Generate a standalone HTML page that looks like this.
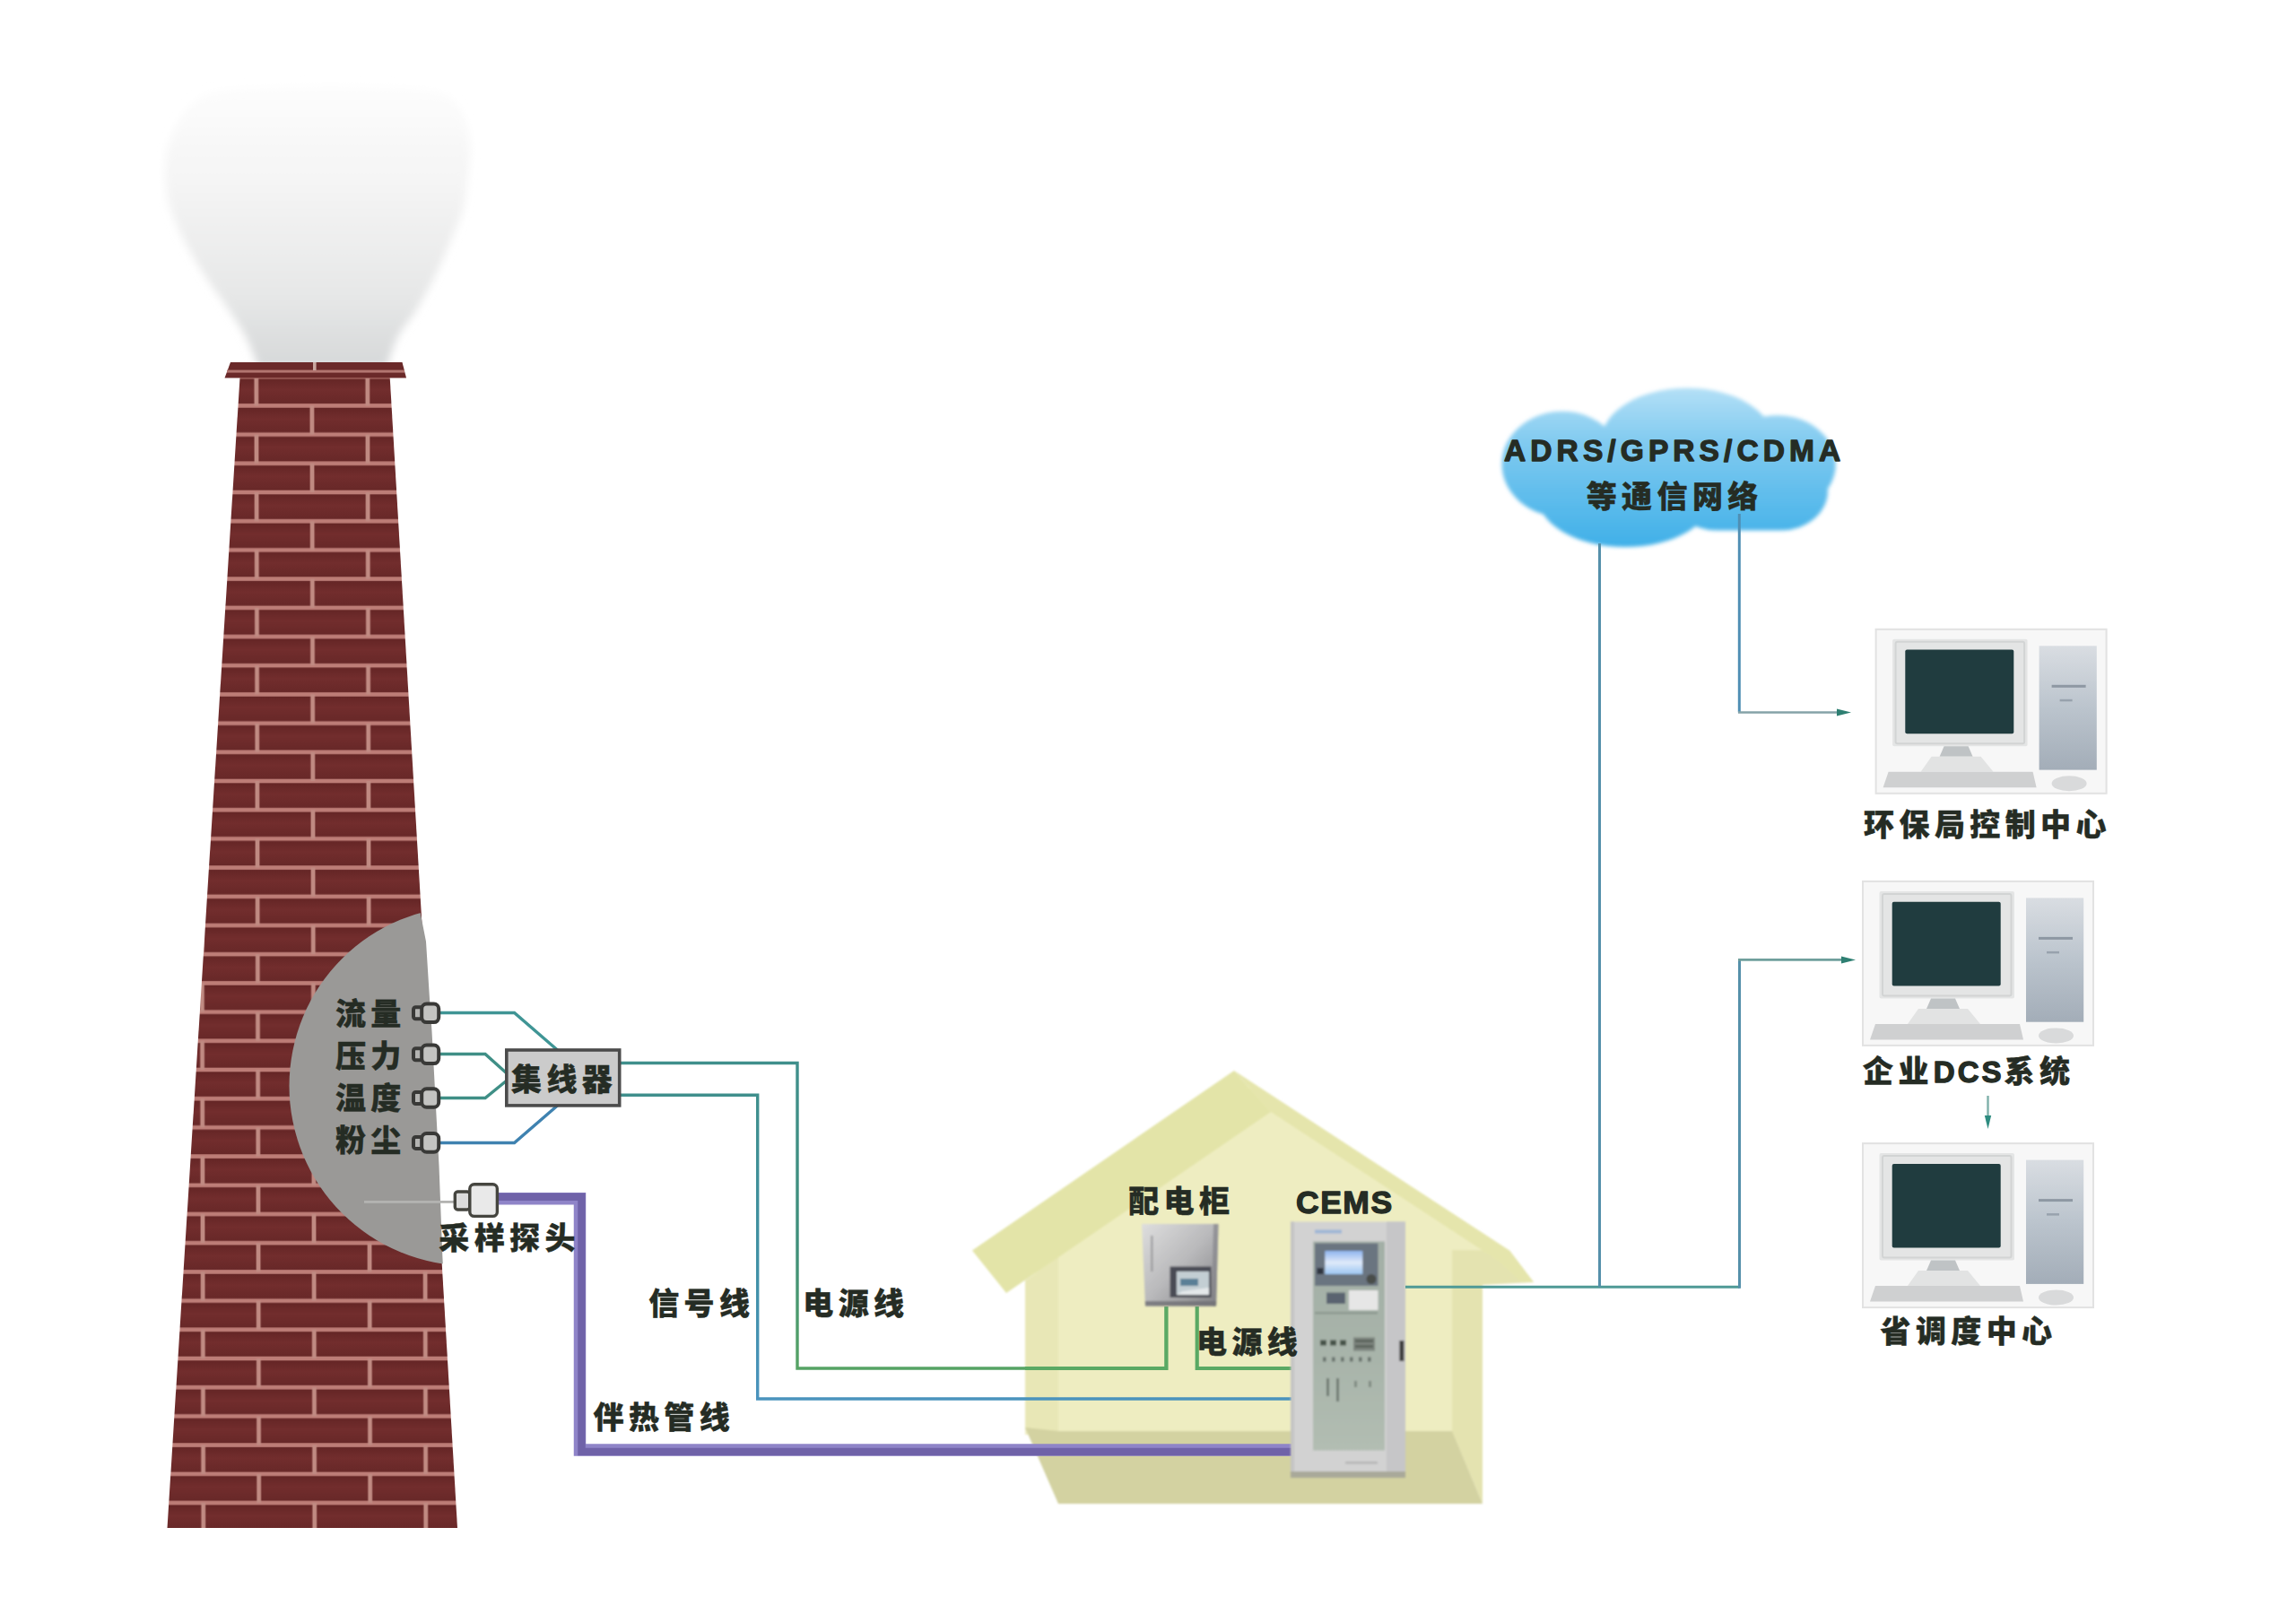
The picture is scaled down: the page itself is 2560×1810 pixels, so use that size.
<!DOCTYPE html>
<html lang="zh-CN">
<head>
<meta charset="utf-8">
<title>CEMS 系统示意图</title>
<style>
html,body{margin:0;padding:0;background:#fff;}
body{width:2560px;height:1810px;overflow:hidden;}
svg{display:block;}
</style>
</head>
<body>
<svg width="2560" height="1810" viewBox="0 0 2560 1810">
<defs>
<linearGradient id="rowg" x1="0" y1="0" x2="0" y2="1">
  <stop offset="0" stop-color="#622424"/><stop offset="0.45" stop-color="#722d2d"/><stop offset="1" stop-color="#662727"/>
</linearGradient>
<pattern id="brick" patternUnits="userSpaceOnUse" patternTransform="skewX(0.134)" x="284.8" y="420.2" width="124" height="64.4">
  <rect x="0" y="0" width="124" height="32.2" fill="url(#rowg)"/>
  <rect x="0" y="32.2" width="124" height="32.2" fill="url(#rowg)"/>
  <rect x="0" y="29.9" width="124" height="4.6" fill="#bd7d77"/>
  <rect x="0" y="62.1" width="124" height="2.3" fill="#bd7d77"/>
  <rect x="0" y="0" width="124" height="2.3" fill="#bd7d77"/>
  <rect x="-2.4" y="0" width="4.8" height="32.2" fill="#c08a82"/>
  <rect x="121.6" y="0" width="4.8" height="32.2" fill="#c08a82"/>
  <rect x="59.6" y="32.2" width="4.8" height="32.2" fill="#c08a82"/>
</pattern>
<linearGradient id="smokeg" x1="0" y1="1" x2="0" y2="0">
  <stop offset="0" stop-color="#d6d8d9"/><stop offset="0.25" stop-color="#e6e7e7"/><stop offset="0.6" stop-color="#f3f3f3"/><stop offset="1" stop-color="#fdfdfd"/>
</linearGradient>
<filter id="blur6" x="-20%" y="-20%" width="140%" height="140%"><feGaussianBlur stdDeviation="5"/></filter>
<filter id="blur3" x="-20%" y="-20%" width="140%" height="140%"><feGaussianBlur stdDeviation="3"/></filter>
<filter id="blur2" x="-20%" y="-20%" width="140%" height="140%"><feGaussianBlur stdDeviation="2"/></filter>
<filter id="blur1" x="-20%" y="-20%" width="140%" height="140%"><feGaussianBlur stdDeviation="0.9"/></filter>
<clipPath id="ellclip"><polygon points="0,1000 466.5,1000 467.5,1012 475,1050 479,1114 481.5,1150 489.5,1300 493.3,1400 494.3,1420 0,1420"/></clipPath>
<linearGradient id="cloudg" gradientUnits="userSpaceOnUse" x1="0" y1="432" x2="0" y2="610">
  <stop offset="0" stop-color="#b4e0f6"/><stop offset="0.35" stop-color="#80caf0"/><stop offset="1" stop-color="#40b0e8"/>
</linearGradient>
<linearGradient id="boxg" x1="0" y1="0" x2="1" y2="1">
  <stop offset="0" stop-color="#dedede"/><stop offset="0.5" stop-color="#b9b9bb"/><stop offset="1" stop-color="#808083"/>
</linearGradient>
<linearGradient id="towerg" x1="0" y1="0" x2="0" y2="1">
  <stop offset="0" stop-color="#d9dde2"/><stop offset="0.5" stop-color="#bbc4cd"/><stop offset="1" stop-color="#a3adb8"/>
</linearGradient>
<linearGradient id="glassg" x1="0" y1="0" x2="0" y2="1">
  <stop offset="0" stop-color="#a3afa6"/><stop offset="0.55" stop-color="#a8b4aa"/><stop offset="1" stop-color="#b2bdb2"/>
</linearGradient>
<linearGradient id="lcdg" x1="0" y1="0" x2="0" y2="1">
  <stop offset="0" stop-color="#8fb4ee"/><stop offset="0.5" stop-color="#dfeafa"/><stop offset="1" stop-color="#9cc6f2"/>
</linearGradient>
<linearGradient id="pw" gradientUnits="userSpaceOnUse" x1="0" y1="1185" x2="0" y2="1526">
  <stop offset="0" stop-color="#3f8f8c"/><stop offset="0.6" stop-color="#3f8f7a"/><stop offset="1" stop-color="#56a364"/>
</linearGradient>
<linearGradient id="sg" gradientUnits="userSpaceOnUse" x1="0" y1="1221" x2="0" y2="1560">
  <stop offset="0" stop-color="#3f8f8c"/><stop offset="0.6" stop-color="#4191a8"/><stop offset="1" stop-color="#4a93bd"/>
</linearGradient>
<g id="pc">
  <rect x="0" y="0" width="257" height="183" fill="#f7f7f7" stroke="#e2e2e2" stroke-width="2"/>
  <rect x="18.5" y="11" width="150.5" height="119.5" rx="2" fill="#e4e5e5"/>
  <rect x="22" y="14" width="143.5" height="113.5" rx="2" fill="none" stroke="#d2d4d4" stroke-width="2"/>
  <rect x="32.7" y="22.8" width="121" height="93.7" rx="2" fill="#203c3f"/>
  <polygon points="76,130.5 103,130.5 108,142 71,142" fill="#bfc3c5"/>
  <polygon points="62,142 117,142 131,159 50,159" fill="#e2e3e3"/>
  <polygon points="14,159 175,159 179,176.5 8,176.5" fill="#cfd0d1"/>
  <rect x="182" y="18.5" width="64.2" height="138.3" fill="url(#towerg)"/>
  <rect x="196" y="62" width="38" height="3" fill="#8e98a3"/>
  <rect x="205" y="78" width="14" height="2.5" fill="#98a2ad"/>
  <ellipse cx="215.5" cy="172" rx="19.5" ry="8.5" fill="#d9dadb"/>
</g>
</defs>
<g filter="url(#blur6)"><path d="M288.5,410.0 C286.1,404.2 279.3,386.0 273.8,375.3 C268.3,364.6 262.7,356.8 255.3,345.7 C247.9,334.6 237.4,321.1 229.4,308.8 C221.4,296.5 213.7,284.1 207.2,271.8 C200.7,259.5 194.4,247.1 190.6,234.8 C186.8,222.5 184.7,210.2 184.3,197.9 C183.9,185.6 184.2,173.2 188.0,160.9 C191.8,148.6 198.4,133.8 207.2,123.9 C215.9,114.1 221.4,106.4 240.5,101.8 C259.6,97.2 292.9,97.1 321.8,96.2 C350.8,95.3 386.5,95.3 414.2,96.2 C441.9,97.1 471.6,97.2 488.2,101.8 C504.8,106.4 508.0,114.1 514.0,123.9 C520.0,133.8 523.2,148.6 524.4,160.9 C525.6,173.2 522.8,185.6 521.4,197.9 C520.0,210.2 519.3,222.5 515.9,234.8 C512.5,247.1 506.3,259.5 501.1,271.8 C495.9,284.1 490.7,296.5 484.5,308.8 C478.3,321.1 470.9,334.6 464.1,345.7 C457.3,356.8 449.3,364.6 443.8,375.3 C438.3,386.0 433.0,404.2 430.9,410.0 Z" fill="url(#smokeg)"/></g>
<g>
<polygon points="267.5,421 434.7,421 510,1704 186.5,1704" fill="url(#brick)"/>
<polygon points="257,404 448.5,404 453,421.6 250.5,421.6" fill="#6a2929"/>
<rect x="253" y="412.6" width="198" height="3" fill="#b27570"/>
<rect x="349" y="404" width="3.6" height="9" fill="#c9a8a0"/>
</g>
<g clip-path="url(#ellclip)"><circle cx="523" cy="1211" r="200.5" fill="#9a9997"/></g>
<g filter="url(#blur1)">
<!-- back wall -->
<polygon points="1143,1430 1395,1212 1685,1405 1653,1433 1653,1600 1143,1600" fill="#eeedc1"/>
<!-- left wall -->
<polygon points="1143,1428 1180,1402 1180,1597 1143,1594" fill="#e8e7b6"/>
<!-- right wall / gable shade -->
<polygon points="1619,1394 1683,1394.6 1710,1430 1653,1433 1653,1677 1619,1597" fill="#e4e3b0"/>
<!-- floor -->
<polygon points="1143,1592 1180,1596 1619,1596 1653,1677 1180,1677" fill="#d3d2a1"/>
<!-- roof bands -->
<polygon points="1376,1194 1084,1394.5 1122,1442 1417,1240" fill="#e3e4a8"/>
<polygon points="1376,1194 1683,1394.6 1710,1430 1697,1430 1672,1407 1417,1240" fill="#e5e5ac"/>
</g>
<g fill="none" stroke-width="3.4" stroke-linejoin="miter">
<path d="M491,1129.5 H573.5 L621.5,1171" stroke="#3f9595"/>
<path d="M491,1175.5 H541 L565,1197" stroke="#3f8f86"/>
<path d="M491,1224.5 H541 L565,1205" stroke="#3f8f86"/>
<path d="M491,1274.5 H573.5 L621.5,1233" stroke="#3f82b0"/>
<path d="M692,1185.5 H889 V1526 H1300.4 V1457" stroke="url(#pw)"/>
<path d="M692,1221.3 H844.7 V1560 H1440" stroke="url(#sg)"/>
<path d="M1334.7,1457 V1526 H1440" stroke="#5aa964" stroke-width="4.2"/>
<path d="M1300.4,1457 V1526 H1143" stroke="#5aa964" stroke-width="4.2"/>
</g>
<g fill="none" stroke-linejoin="miter">
<path d="M556,1336.8 H646.5 V1617 H1440" stroke="#8f84c8" stroke-width="13.5"/>
<path d="M556,1334.8 H648.5 V1619 H1440" stroke="#6f62a8" stroke-width="8.5"/>
</g>
<rect x="564.8" y="1171" width="125.9" height="61.9" fill="#cbcbcb" stroke="#4b4b4b" stroke-width="3.6"/>
<g stroke="#393937" stroke-width="4" fill="#b4b4b2"><rect x="461" y="1123.3" width="10" height="13" rx="2.5"/><rect x="470.2" y="1119.5" width="19" height="20.6" rx="5.5" fill="#c3c3c1"/></g>
<g stroke="#393937" stroke-width="4" fill="#b4b4b2"><rect x="461" y="1169.3" width="10" height="13" rx="2.5"/><rect x="470.2" y="1165.5" width="19" height="20.6" rx="5.5" fill="#c3c3c1"/></g>
<g stroke="#393937" stroke-width="4" fill="#b4b4b2"><rect x="461" y="1218.0" width="10" height="13" rx="2.5"/><rect x="470.2" y="1214.2" width="19" height="20.6" rx="5.5" fill="#c3c3c1"/></g>
<g stroke="#393937" stroke-width="4" fill="#b4b4b2"><rect x="461" y="1267.9" width="10" height="13" rx="2.5"/><rect x="470.2" y="1264.1" width="19" height="20.6" rx="5.5" fill="#c3c3c1"/></g>
<rect x="406" y="1339" width="101" height="2.8" fill="#b3b3b1"/>
<g stroke="#45453f" stroke-width="3.4"><rect x="507.3" y="1329" width="16.5" height="20" rx="3" fill="#dcdcdc"/><rect x="523.8" y="1320.8" width="30.6" height="35.6" rx="5" fill="#e9e9e9"/></g>
<g filter="url(#blur1)">
<polygon points="1273,1365 1358.5,1365 1356,1456.5 1277,1456.5" fill="url(#boxg)"/>
<polygon points="1353,1365 1358.5,1365 1356,1456.5 1351,1456.5" fill="#85858a" opacity="0.7"/>
<polygon points="1276.8,1451 1356.2,1451 1356,1456.5 1277,1456.5" fill="#6f6f74" opacity="0.8"/>
<rect x="1283" y="1378" width="2.5" height="40" fill="#8e8e92" opacity="0.7"/>
<rect x="1304.5" y="1412.5" width="46" height="34.5" fill="#4a4b55"/>
<rect x="1312" y="1418" width="36" height="26" fill="#c3ced3"/>
<rect x="1316" y="1426" width="20" height="8" fill="#5a7f96"/>
<polygon points="1312,1444 1348,1444 1348,1436 1318,1440" fill="#e4e8ea"/>
</g>
<g filter="url(#blur1)">
<rect x="1439" y="1362.5" width="128" height="285.5" fill="#d2d2d2"/>
<rect x="1546" y="1362.5" width="21" height="285.5" fill="#c6c6c8"/>
<rect x="1439" y="1362.5" width="4" height="285.5" fill="#c4c4c4"/>
<rect x="1439" y="1641" width="128" height="7" fill="#a9a99a"/>
<rect x="1466" y="1371.5" width="30" height="4" fill="#9fb6d6"/>
<rect x="1464" y="1384.5" width="80" height="233" fill="url(#glassg)"/>
<rect x="1466" y="1386.5" width="70.5" height="47.5" fill="#6a7480"/>
<rect x="1477.3" y="1395" width="42" height="26" fill="url(#lcdg)"/>
<rect x="1468.5" y="1414" width="7" height="7" fill="#2f3440"/>
<circle cx="1529" cy="1426.5" r="5.5" fill="#4a4d4a"/>
<rect x="1504" y="1439" width="32.5" height="22" fill="#e6e6e6"/>
<rect x="1479" y="1441.5" width="21" height="12.5" fill="#5a6470"/>
<rect x="1466" y="1463" width="70" height="2.5" fill="#8d9990"/>
<rect x="1472" y="1494.5" width="7" height="6" fill="#47524a"/><rect x="1483" y="1494.5" width="7" height="6" fill="#47524a"/><rect x="1494" y="1494.5" width="7" height="6" fill="#47524a"/>
<rect x="1509" y="1491.5" width="24" height="15" fill="#7b837d"/>
<rect x="1511" y="1494" width="20" height="3" fill="#5b635d"/><rect x="1511" y="1500" width="20" height="3" fill="#5b635d"/>
<g fill="#66716a"><rect x="1475" y="1513.5" width="3.5" height="5"/><rect x="1485" y="1513.5" width="3.5" height="5"/><rect x="1495" y="1513.5" width="3.5" height="5"/><rect x="1505" y="1513.5" width="3.5" height="5"/><rect x="1515" y="1513.5" width="3.5" height="5"/><rect x="1525" y="1513.5" width="3.5" height="5"/></g>
<rect x="1479" y="1537" width="3" height="20" fill="#6f7a72"/><rect x="1490" y="1537" width="3" height="26" fill="#6f7a72"/>
<rect x="1510" y="1540" width="3" height="7" fill="#7f8a82"/><rect x="1526" y="1540" width="3" height="7" fill="#7f8a82"/>
<rect x="1500" y="1630" width="36" height="2.5" fill="#b5b5b5"/>
<rect x="1560.4" y="1495" width="5" height="23" fill="#3a3a3a"/>
</g>
<g filter="url(#blur2)" fill="url(#cloudg)">
<ellipse cx="1881.3" cy="491.5" rx="95.8" ry="58.8"/>
<ellipse cx="1742" cy="517.6" rx="67.5" ry="58.8"/>
<ellipse cx="1981.5" cy="517.6" rx="65.3" ry="54.4"/>
<ellipse cx="1812" cy="552.4" rx="98" ry="57.7"/>
<rect x="1862" y="494" width="176" height="97.5" rx="52" ry="44"/>
<ellipse cx="1870" cy="520" rx="120" ry="60"/>
</g>
<g fill="none" stroke="#5590aa" stroke-width="3">
<path d="M1567,1435.3 H1939.5" stroke="#4f9a96"/>
<path d="M1939.5,1436.8 V1070.4"/>
<path d="M1783.5,606 V1435.3"/>
<path d="M1939.3,573 V794.5" stroke="#4f8fb4"/>
<path d="M1938,794.5 H2050" stroke="#86a3a8" stroke-width="2.6"/>
<path d="M1938,1070.4 H2056" stroke="#6f9f9c" stroke-width="2.6"/>
<path d="M2216.5,1222 V1248" stroke="#7fb0aa" stroke-width="2.4"/>
</g>
<polygon points="2048,790.5 2064,794.5 2048,798.5" fill="#2e7f72"/>
<polygon points="2053,1066.4 2069,1070.4 2053,1074.4" fill="#2e7f72"/>
<polygon points="2212.8,1244 2220.2,1244 2216.5,1259" fill="#2e8c80"/>
<use href="#pc" x="2091.6" y="701.8"/>
<use href="#pc" x="2077" y="982.9"/>
<use href="#pc" x="2077" y="1275.1"/>
<g font-family='"Liberation Sans", "Noto Sans CJK SC", sans-serif' fill="#252c24" font-weight="900" stroke="#252c24" stroke-width="0.4" stroke-linejoin="round">
<text x="373.9" y="1142.7" font-size="34" letter-spacing="5.4" text-anchor="start">流量</text>
<text x="373.9" y="1190.2" font-size="34" letter-spacing="5.4" text-anchor="start">压力</text>
<text x="373.9" y="1237.0" font-size="34" letter-spacing="5.4" text-anchor="start">温度</text>
<text x="373.9" y="1283.8" font-size="34" letter-spacing="5.4" text-anchor="start">粉尘</text>
<text x="570.0" y="1216.4" font-size="34" letter-spacing="5.4" text-anchor="start">集线器</text>
<text x="489.3" y="1393.3" font-size="34" letter-spacing="5.4" text-anchor="start">采样探头</text>
<text x="723.2" y="1465.9" font-size="34" letter-spacing="5.4" text-anchor="start">信号线</text>
<text x="895.3" y="1465.9" font-size="34" letter-spacing="5.4" text-anchor="start">电源线</text>
<text x="661.5" y="1593.0" font-size="34" letter-spacing="5.4" text-anchor="start">伴热管线</text>
<text x="1258.2" y="1352.3" font-size="34" letter-spacing="5.4" text-anchor="start">配电柜</text>
<text x="1334.0" y="1508.6" font-size="34" letter-spacing="5.4" text-anchor="start">电源线</text>
<text x="1768.7" y="565.9" font-size="34" letter-spacing="5.4" text-anchor="start">等通信网络</text>
<text x="2078.1" y="931.5" font-size="34" letter-spacing="5.4" text-anchor="start">环保局控制中心</text>
<text x="2077.0" y="1206.5" font-size="34" letter-spacing="5.4" text-anchor="start">企业<tspan font-weight="700" stroke="#252c24" stroke-width="1.3" stroke-linejoin="round" font-size="33" letter-spacing="3">DCS</tspan>系统</text>
<text x="2096.5" y="1496.6" font-size="34" letter-spacing="5.4" text-anchor="start">省调度中心</text>
<text x="1445" y="1353.4" font-size="35.5" letter-spacing="1.5" text-anchor="start"><tspan font-weight="700" stroke="#252c24" stroke-width="1.3" stroke-linejoin="round">CEMS</tspan></text>
<text x="1677" y="514.3" font-size="33.5" letter-spacing="5.1" text-anchor="start"><tspan font-weight="700" stroke="#252c24" stroke-width="1.3" stroke-linejoin="round">ADRS/GPRS/CDMA</tspan></text>
</g>
</svg>
</body>
</html>
